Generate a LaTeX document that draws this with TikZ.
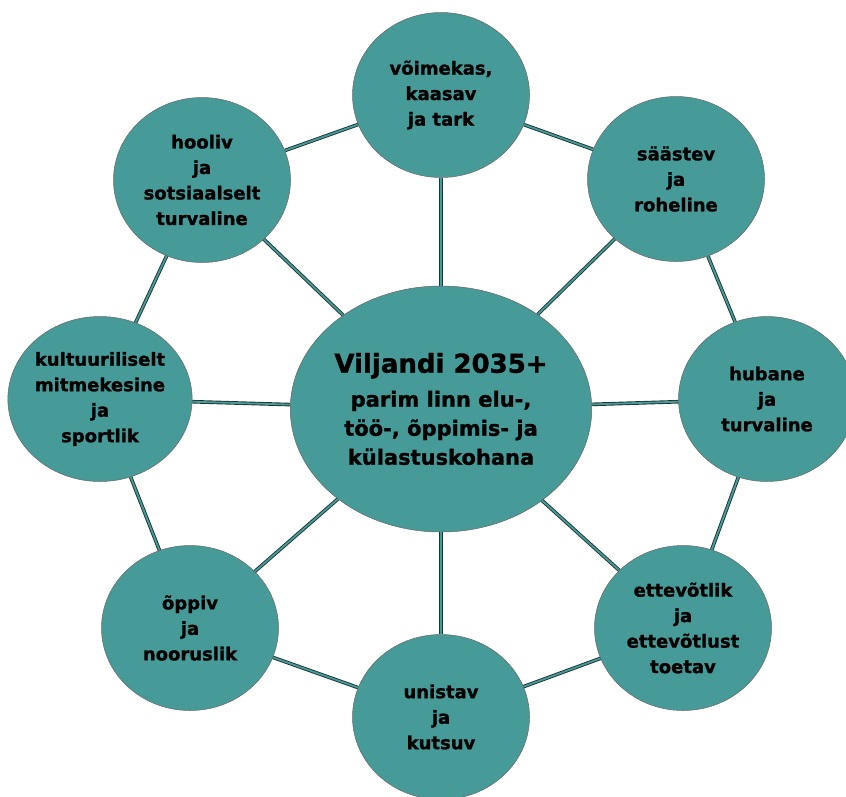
\documentclass[tikz,border=0pt]{standalone}
\usepackage{fontspec}
\setmainfont[BoldFeatures={FakeBold=1.2}]{DejaVu Sans}
\usetikzlibrary{shapes.geometric}
\definecolor{goalteal}{HTML}{469B98}
\definecolor{linkdark}{HTML}{1E3534}
\tikzstyle{link} = [draw=linkdark, line width=0.9pt, double=goalteal, double distance=1.8pt]

\begin{document}
\begin{tikzpicture}[x=1pt, y=-1pt]

\tikzset{goal/.style = {ellipse, draw=black!60, line width=0.5pt, fill=goalteal,
                        minimum width=177pt, minimum height=165pt, inner sep=0pt,
                        align=center, text=black,
                        font=\fontsize{18}{25.5}\selectfont\bfseries},
         hub/.style  = {goal, minimum width=278pt, minimum height=246pt,
                        font=\fontsize{21}{29}\selectfont\bfseries}}

\useasboundingbox (0,0) rectangle (846,796);

\node[hub]  (hub)      at (441,409) {{\fontsize{26}{30}\selectfont Viljandi 2035+}\\[5pt]
                                     parim linn elu-,\\ töö-, õppimis- ja\\ külastuskohana};
\node[goal] (capable)  at (441,95)  {võimekas,\\ kaasav\\ ja tark};
\node[goal] (green)    at (676,179) {säästev\\ ja\\ roheline};
\node[goal] (cosy)     at (767,399) {hubane\\ ja\\ turvaline};
\node[goal] (business) at (683,628) {ettevõtlik\\ ja\\ ettevõtlust\\ toetav};
\node[goal] (dreaming) at (441,717) {unistav\\ ja\\ kutsuv};
\node[goal] (learning) at (190,628) {õppiv\\ ja\\ nooruslik};
\node[goal] (culture)  at (100,399) {kultuuriliselt\\ mitmekesine\\ ja\\ sportlik};
\node[goal] (caring)   at (202,180) {hooliv\\ ja\\ sotsiaalselt\\ turvaline};

\foreach \g in {capable, green, cosy, business, dreaming, learning, culture, caring}
    \draw[link] (hub) -- (\g);

\draw[link] (capable) -- (green);
\draw[link] (green) -- (cosy);
\draw[link] (cosy) -- (business);
\draw[link] (business) -- (dreaming);
\draw[link] (dreaming) -- (learning);
\draw[link] (learning) -- (culture);
\draw[link] (culture) -- (caring);
\draw[link] (caring) -- (capable);

\end{tikzpicture}
\end{document}
